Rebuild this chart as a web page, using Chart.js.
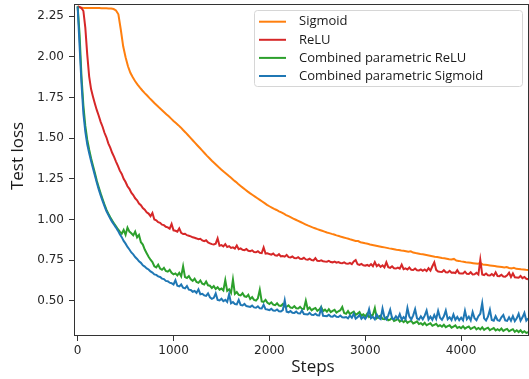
<!DOCTYPE HTML>
<html>
<head>
<title>Test loss</title>
<script src="https://cdn.jsdelivr.net/npm/chart.js@4.4.1/dist/chart.umd.min.js"></script>
<style>
  html, body { margin: 0; padding: 0; background: #fff; }
  #wrap { width: 529px; height: 379px; }
</style>
</head>
<body>
<div id="wrap"><canvas id="myChart"></canvas></div>
<script>
// Sigmoid: one value every 25 steps (0 .. 4700)
const sigmoid = [
  2.310,2.304,2.302,2.301,2.301,2.300,2.300,2.300,
  2.300,2.300,2.299,2.299,2.299,2.298,2.297,2.294,
  2.285,2.262,2.168,2.065,1.998,1.942,1.902,1.874,
  1.850,1.829,1.810,1.793,1.777,1.762,1.746,1.731,
  1.716,1.702,1.688,1.675,1.661,1.647,1.634,1.620,
  1.606,1.593,1.580,1.566,1.550,1.535,1.519,1.503,
  1.487,1.471,1.455,1.439,1.423,1.407,1.391,1.376,
  1.361,1.347,1.333,1.319,1.306,1.293,1.281,1.268,
  1.256,1.243,1.231,1.218,1.206,1.194,1.183,1.171,
  1.160,1.150,1.140,1.130,1.120,1.110,1.100,1.090,
  1.081,1.073,1.065,1.058,1.050,1.043,1.035,1.027,
  1.020,1.013,1.005,0.998,0.991,0.984,0.977,0.970,
  0.963,0.957,0.951,0.946,0.940,0.935,0.930,0.925,
  0.920,0.916,0.911,0.907,0.902,0.898,0.893,0.889,
  0.885,0.881,0.876,0.872,0.868,0.867,0.860,0.857,
  0.853,0.850,0.846,0.843,0.840,0.837,0.834,0.831,
  0.828,0.825,0.822,0.820,0.817,0.814,0.812,0.809,
  0.807,0.804,0.801,0.804,0.796,0.793,0.791,0.788,
  0.786,0.783,0.780,0.777,0.774,0.771,0.769,0.766,
  0.763,0.761,0.758,0.755,0.753,0.757,0.747,0.745,
  0.742,0.740,0.737,0.735,0.733,0.731,0.729,0.727,
  0.732,0.723,0.721,0.719,0.717,0.715,0.713,0.711,
  0.709,0.707,0.705,0.707,0.701,0.699,0.702,0.696,
  0.695,0.693,0.692,0.690,0.689
];

// other runs: one value every 20 steps (0 .. 4700), 10 values per row
const relu = [
  2.310,2.307,2.300,2.282,2.180,2.015,1.880,1.802,1.755,1.712,
  1.672,1.638,1.600,1.570,1.533,1.505,1.468,1.442,1.410,1.385,
  1.356,1.330,1.300,1.280,1.250,1.230,1.204,1.188,1.164,1.150,
  1.130,1.118,1.098,1.088,1.070,1.060,1.044,1.036,1.020,1.040,
  1.000,0.995,0.983,0.979,0.968,0.965,0.955,0.951,0.943,0.972,
  0.933,0.930,0.925,0.945,0.917,0.910,0.912,0.903,0.900,0.896,
  0.890,0.887,0.883,0.878,0.881,0.871,0.866,0.872,0.858,0.853,
  0.848,0.846,0.851,0.883,0.838,0.842,0.834,0.848,0.830,0.836,
  0.825,0.828,0.821,0.840,0.817,0.822,0.813,0.811,0.818,0.807,
  0.805,0.810,0.800,0.798,0.804,0.795,0.793,0.828,0.790,0.792,
  0.787,0.783,0.790,0.779,0.777,0.786,0.773,0.775,0.771,0.782,
  0.768,0.766,0.772,0.763,0.761,0.768,0.758,0.757,0.764,0.754,
  0.752,0.758,0.750,0.748,0.762,0.746,0.744,0.749,0.743,0.741,
  0.740,0.745,0.738,0.736,0.741,0.734,0.738,0.732,0.731,0.736,
  0.728,0.727,0.733,0.725,0.742,0.750,0.724,0.720,0.726,0.718,
  0.716,0.720,0.714,0.725,0.712,0.738,0.713,0.722,0.708,0.718,
  0.705,0.736,0.706,0.702,0.712,0.700,0.698,0.704,0.697,0.722,
  0.694,0.699,0.692,0.704,0.690,0.689,0.698,0.687,0.686,0.693,
  0.684,0.692,0.683,0.700,0.685,0.712,0.736,0.690,0.680,0.678,
  0.677,0.688,0.675,0.674,0.684,0.672,0.673,0.670,0.688,0.669,
  0.668,0.667,0.679,0.665,0.664,0.675,0.662,0.663,0.672,0.661,
  0.752,0.662,0.658,0.667,0.656,0.655,0.664,0.654,0.675,0.652,
  0.651,0.660,0.649,0.648,0.656,0.672,0.646,0.668,0.644,0.643,
  0.641,0.652,0.639,0.646,0.635,0.632
];
const paramRelu = [
  2.310,2.140,1.880,1.700,1.575,1.490,1.430,1.377,1.330,1.285,
  1.238,1.198,1.160,1.125,1.092,1.060,1.036,1.013,0.993,0.975,
  0.958,0.940,0.925,0.912,0.935,0.905,0.950,0.925,0.915,0.902,
  0.925,0.890,0.905,0.860,0.845,0.815,0.792,0.770,0.752,0.738,
  0.712,0.705,0.722,0.698,0.690,0.702,0.683,0.679,0.690,0.672,
  0.662,0.668,0.656,0.672,0.650,0.712,0.645,0.640,0.652,0.632,
  0.622,0.635,0.615,0.610,0.625,0.605,0.600,0.618,0.595,0.592,
  0.578,0.590,0.572,0.583,0.568,0.575,0.563,0.627,0.560,0.570,
  0.548,0.630,0.542,0.553,0.536,0.533,0.546,0.527,0.524,0.537,
  0.510,0.522,0.505,0.501,0.515,0.568,0.496,0.493,0.505,0.487,
  0.480,0.490,0.476,0.473,0.484,0.470,0.468,0.480,0.464,0.463,
  0.472,0.458,0.456,0.467,0.454,0.452,0.462,0.450,0.449,0.500,
  0.447,0.458,0.441,0.450,0.455,0.438,0.446,0.462,0.436,0.445,
  0.432,0.448,0.430,0.438,0.444,0.427,0.435,0.442,0.462,0.424,
  0.420,0.436,0.418,0.426,0.433,0.413,0.421,0.430,0.408,0.416,
  0.403,0.420,0.400,0.408,0.414,0.455,0.393,0.402,0.408,0.388,
  0.386,0.398,0.380,0.384,0.395,0.376,0.381,0.390,0.372,0.379,
  0.368,0.380,0.364,0.372,0.376,0.360,0.366,0.373,0.357,0.362,
  0.352,0.364,0.349,0.356,0.361,0.346,0.352,0.358,0.343,0.349,
  0.340,0.352,0.337,0.344,0.349,0.334,0.341,0.348,0.332,0.339,
  0.331,0.343,0.328,0.336,0.341,0.326,0.333,0.339,0.324,0.332,
  0.324,0.336,0.321,0.329,0.334,0.319,0.326,0.332,0.317,0.325,
  0.317,0.329,0.314,0.322,0.327,0.312,0.319,0.325,0.309,0.318,
  0.307,0.318,0.304,0.312,0.302,0.306
];
const paramSigmoid = [
  2.310,2.070,1.840,1.650,1.540,1.462,1.408,1.360,1.315,1.270,
  1.225,1.185,1.148,1.114,1.082,1.052,1.028,1.005,0.985,0.967,
  0.950,0.931,0.909,0.891,0.868,0.851,0.831,0.815,0.797,0.785,
  0.769,0.757,0.742,0.733,0.718,0.710,0.699,0.692,0.680,0.673,
  0.662,0.659,0.650,0.646,0.636,0.633,0.622,0.620,0.611,0.608,
  0.600,0.626,0.592,0.588,0.600,0.580,0.576,0.590,0.568,0.566,
  0.555,0.560,0.548,0.570,0.540,0.543,0.533,0.530,0.545,0.521,
  0.512,0.518,0.545,0.505,0.502,0.512,0.497,0.505,0.492,0.540,
  0.484,0.492,0.480,0.478,0.505,0.474,0.471,0.480,0.467,0.465,
  0.462,0.470,0.459,0.457,0.466,0.453,0.452,0.475,0.448,0.446,
  0.442,0.450,0.440,0.438,0.446,0.435,0.434,0.442,0.502,0.432,
  0.428,0.436,0.426,0.425,0.433,0.422,0.421,0.440,0.418,0.417,
  0.415,0.425,0.413,0.412,0.420,0.410,0.409,0.455,0.407,0.406,
  0.405,0.414,0.403,0.402,0.411,0.401,0.400,0.409,0.398,0.397,
  0.400,0.392,0.408,0.395,0.420,0.390,0.399,0.412,0.389,0.402,
  0.388,0.405,0.448,0.392,0.401,0.386,0.415,0.395,0.387,0.452,
  0.398,0.385,0.410,0.445,0.392,0.386,0.405,0.389,0.418,0.384,
  0.399,0.386,0.455,0.402,0.385,0.410,0.448,0.392,0.384,0.404,
  0.386,0.408,0.440,0.385,0.402,0.383,0.412,0.387,0.438,0.395,
  0.383,0.404,0.440,0.386,0.398,0.381,0.415,0.383,0.400,0.380,
  0.396,0.380,0.438,0.386,0.402,0.379,0.430,0.392,0.380,0.405,
  0.420,0.485,0.392,0.378,0.402,0.445,0.381,0.377,0.405,0.380,
  0.376,0.398,0.412,0.379,0.376,0.398,0.377,0.405,0.375,0.392,
  0.420,0.377,0.398,0.425,0.378,0.392
];

const sigmoidSteps = sigmoid.map((_, i) => i * 25);
const steps = relu.map((_, i) => i * 20);

const xTicks = [0, 1000, 2000, 3000, 4000];
const yTicks = [0.50, 0.75, 1.00, 1.25, 1.50, 1.75, 2.00, 2.25];

const seriesNames = ['Sigmoid', 'ReLU', 'Combined parametric ReLU', 'Combined parametric Sigmoid'];
const seriesColors = ['#ff7f0e', '#d62728', '#2ca02c', '#1f77b4'];
const seriesValues = [sigmoid, relu, paramRelu, paramSigmoid];
const seriesSteps = [sigmoidSteps, steps, steps, steps];

const tickFont = { family: 'DejaVu Sans', size: 12 };
const labelFont = '17px "Open Sans"';

// frame, axis titles and legend box drawn like matplotlib
const decor = {
  id: 'decor',
  afterDraw(chart) {
    const ctx = chart.ctx, a = chart.chartArea;
    ctx.save();
    ctx.strokeStyle = '#333';
    ctx.lineWidth = 1;
    ctx.strokeRect(a.left + 0.5, a.top + 0.5, a.right - a.left - 1, a.bottom - a.top - 1);

    ctx.fillStyle = '#1a1a1a';
    ctx.font = labelFont;
    ctx.textAlign = 'center';
    ctx.textBaseline = 'alphabetic';
    ctx.fillText('Steps', 313, 371.5);
    ctx.translate(23, 156);
    ctx.rotate(-Math.PI / 2);
    ctx.fillText('Test loss', 0, 0);
    ctx.restore();

    // legend
    ctx.save();
    ctx.beginPath();
    ctx.roundRect(254.5, 10.5, 268, 76, 3);
    ctx.fillStyle = 'rgba(255,255,255,0.8)';
    ctx.fill();
    ctx.strokeStyle = '#d6d6d6';
    ctx.lineWidth = 1;
    ctx.stroke();
    ctx.font = '13px "Open Sans"';
    ctx.textAlign = 'left';
    ctx.textBaseline = 'middle';
    chart.data.datasets.forEach((ds, i) => {
      const y = 21.7 + i * 18.1;
      ctx.strokeStyle = ds.borderColor;
      ctx.lineWidth = 2;
      ctx.beginPath();
      ctx.moveTo(259, y);
      ctx.lineTo(286, y);
      ctx.stroke();
      ctx.fillStyle = '#1a1a1a';
      ctx.fillText(ds.label, 299, y);
    });
    ctx.restore();
  }
};

const config = {
  type: 'line',
  data: {
    datasets: seriesNames.map((name, k) => ({
      label: name,
      data: seriesSteps[k].map((s, i) => ({ x: s, y: seriesValues[k][i] })),
      borderColor: seriesColors[k],
      backgroundColor: seriesColors[k],
      borderWidth: 2,
      pointRadius: 0,
      tension: 0,
      fill: false,
      order: 4 - k
    }))
  },
  options: {
    responsive: true,
    maintainAspectRatio: false,
    animation: false,
    events: [],
    layout: { padding: { top: 4, right: 0, left: 0, bottom: 0 } },
    plugins: {
      legend: { display: false },
      tooltip: { enabled: false }
    },
    scales: {
      x: {
        type: 'linear',
        min: -38,
        max: 4708,
        afterBuildTicks: (axis) => { axis.ticks = xTicks.map(v => ({ value: v })); },
        afterFit: (axis) => { axis.height = 43; axis.paddingLeft = 0; axis.paddingRight = 0; },
        ticks: { font: tickFont, color: '#262626', padding: 3, maxRotation: 0, callback: (v) => String(v) },
        grid: { display: true, drawOnChartArea: false, drawTicks: true, tickLength: 5, tickColor: '#333' },
        border: { display: false }
      },
      y: {
        min: 0.283,
        max: 2.325,
        afterBuildTicks: (axis) => { axis.ticks = yTicks.map(v => ({ value: v })); },
        afterFit: (axis) => { axis.width = 74; axis.paddingTop = 0; axis.paddingBottom = 0; },
        ticks: { font: tickFont, color: '#262626', padding: 5, callback: (v) => Number(v).toFixed(2) },
        grid: { display: true, drawOnChartArea: false, drawTicks: true, tickLength: 5, tickColor: '#333' },
        border: { display: false }
      }
    }
  },
  plugins: [decor]
};

const myChart = new Chart(document.getElementById('myChart'), config);
</script>
</body>
</html>
